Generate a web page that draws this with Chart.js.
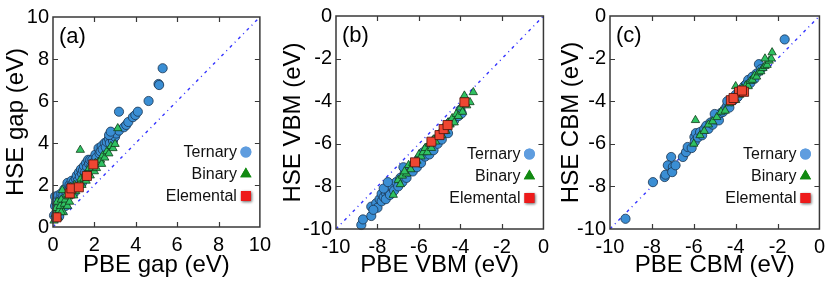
<!DOCTYPE html>
<html>
<head>
<meta charset="utf-8">
<script src="https://cdn.jsdelivr.net/npm/chart.js@4.4.1/dist/chart.umd.min.js"></script>
<style>
html,body{margin:0;padding:0;background:#fff;}
#wrap{position:relative;width:831px;height:286px;overflow:hidden;}
canvas{position:absolute;top:0;}
</style>
</head>
<body>
<div id="wrap">
<canvas id="cA" width="277" height="286" style="left:0px"></canvas>
<canvas id="cB" width="278" height="286" style="left:277px"></canvas>
<canvas id="cC" width="276" height="286" style="left:555px"></canvas>
</div>
<script>
// ---------------- DATA ----------------
const seriesNames = ['Ternary', 'Binary', 'Elemental'];
const panelLabels = ['(a)', '(b)', '(c)'];
const xTitles = ['PBE gap (eV)', 'PBE VBM (eV)', 'PBE CBM (eV)'];
const yTitles = ['HSE gap (eV)', 'HSE VBM (eV)', 'HSE CBM (eV)'];
const axisRanges = [[0, 10], [-10, 0], [-10, 0]];
const tickStep = 2;

// Panel (a): [PBE gap, HSE gap]
const ternaryGap = [[0.05,0.55],[0.1,1.0],[0.1,1.45],[0.15,1.2],[0.2,0.7],[0.25,1.5],[0.3,1.1],[0.35,1.35],[0.4,1.6],[0.45,1.25],[0.5,1.5],[0.55,1.8],[0.6,1.4],[0.65,1.65],[0.7,2.1],[0.75,1.75],[0.8,2.0],[0.85,1.9],[0.9,2.2],[0.95,2.05],[1.0,2.15],[1.05,1.95],[1.1,2.3],[1.15,2.45],[1.2,2.2],[1.25,2.6],[1.3,2.4],[1.35,2.75],[1.4,2.55],[1.45,2.7],[1.5,2.9],[1.55,2.6],[1.6,3.05],[1.65,2.85],[1.7,3.2],[1.75,3.0],[1.8,3.2],[1.85,2.9],[1.9,3.2],[2.0,3.1],[2.05,3.45],[2.1,3.3],[2.2,3.75],[2.25,3.5],[2.3,3.6],[2.35,3.85],[2.4,3.7],[2.5,4.0],[2.55,3.8],[2.6,4.05],[2.7,4.2],[2.75,4.0],[2.8,4.5],[2.85,4.25],[2.9,4.1],[3.0,4.3],[3.05,4.45],[3.19,4.59],[2.71,4.38],[2.79,4.54],[3.43,4.75],[3.54,4.86],[3.64,5.0],[3.86,5.23],[3.98,5.33],[4.10,5.49],[3.19,5.49],[4.62,6.0],[5.1,6.81],[5.13,6.76],[5.30,7.56],[0.3,0.5],[0.6,1.0],[1.0,1.6],[1.4,2.1],[1.2,1.9]];
const binaryGap = [[0.05,0.3],[0.1,0.6],[0.15,0.9],[0.2,1.2],[0.25,0.45],[0.3,0.8],[0.35,1.0],[0.4,1.3],[0.45,1.75],[0.5,0.7],[0.55,1.1],[0.6,1.3],[0.65,1.55],[0.7,1.0],[0.75,1.45],[0.8,1.2],[0.9,1.55],[1.0,1.5],[1.05,2.0],[1.1,1.7],[1.2,1.9],[1.3,2.1],[1.35,2.3],[1.4,2.0],[1.5,2.3],[1.55,2.5],[1.6,2.2],[1.7,2.6],[1.75,2.8],[1.8,2.45],[1.9,2.8],[2.0,2.65],[2.05,3.05],[2.1,2.8],[2.2,3.1],[2.3,3.2],[2.35,3.0],[2.4,3.4],[2.5,3.3],[2.6,3.6],[2.7,3.5],[2.8,3.85],[2.9,3.75],[3.0,3.95],[1.32,3.67],[3.13,4.70],[0.4,0.7],[0.85,1.9]];
const elementalGap = [[0.17,0.46],[0.81,1.6],[0.89,1.84],[1.25,1.89],[1.64,2.43],[1.95,2.98]];

// Panel (b): [PBE VBM, HSE VBM]
const ternaryVBM = [[-8.78,-9.81],[-8.70,-9.55],[-8.30,-9.39],[-8.30,-8.95],[-8.06,-8.79],[-8.0,-9.0],[-7.9,-8.6],[-7.8,-8.7],[-7.8,-8.35],[-7.7,-8.5],[-7.6,-8.3],[-7.6,-8.6],[-7.5,-8.2],[-7.4,-8.4],[-7.3,-8.0],[-7.2,-8.2],[-7.1,-7.8],[-7.0,-8.0],[-6.9,-7.6],[-6.8,-7.8],[-6.7,-7.4],[-6.6,-7.6],[-6.5,-7.3],[-6.4,-7.1],[-6.3,-7.3],[-6.2,-6.9],[-6.1,-7.1],[-6.0,-6.7],[-5.9,-6.9],[-5.8,-6.4],[-5.7,-6.6],[-5.6,-6.2],[-5.5,-6.5],[-5.4,-6.1],[-5.3,-6.3],[-5.2,-5.8],[-5.1,-6.0],[-5.0,-5.6],[-4.9,-5.8],[-4.8,-5.4],[-4.6,-5.5],[-4.5,-5.0],[-4.3,-4.9],[-4.1,-4.7],[-3.94,-4.57],[-4.0,-4.4],[-7.7,-8.1],[-8.2,-9.1],[-6.75,-7.1],[-7.5,-7.8]];
const binaryVBM = [[-7.24,-8.40],[-7.0,-7.7],[-6.9,-7.9],[-6.8,-7.5],[-6.6,-7.4],[-6.5,-7.0],[-6.4,-7.2],[-6.3,-6.9],[-6.1,-6.8],[-6.0,-6.5],[-5.9,-6.6],[-5.8,-6.4],[-5.7,-6.2],[-5.6,-6.4],[-5.5,-6.0],[-5.4,-6.2],[-5.3,-5.8],[-5.2,-5.9],[-5.1,-5.6],[-5.0,-5.5],[-4.9,-5.6],[-4.8,-5.2],[-4.7,-5.4],[-4.6,-5.0],[-4.5,-5.1],[-4.4,-4.8],[-4.3,-5.0],[-4.2,-4.6],[-4.1,-4.7],[-4.0,-4.3],[-3.9,-4.5],[-3.81,-3.74],[-3.54,-4.05],[-3.38,-3.58],[-3.7,-4.2],[-6.7,-7.3]];
const elementalVBM = [[-6.19,-6.87],[-5.40,-5.90],[-5.01,-5.59],[-4.81,-5.31],[-4.62,-5.12],[-3.81,-4.05]];

// Panel (c): [PBE CBM, HSE CBM]
const ternaryCBM = [[-9.26,-9.52],[-7.95,-7.80],[-7.39,-7.56],[-7.35,-7.45],[-7.08,-6.62],[-7.24,-7.01],[-7.0,-7.09],[-7.03,-7.33],[-6.87,-7.01],[-6.52,-6.62],[-6.37,-6.39],[-6.29,-6.15],[-6.1,-6.2],[-5.97,-5.68],[-5.95,-5.9],[-5.9,-5.5],[-5.8,-5.7],[-5.7,-5.45],[-5.6,-5.6],[-5.5,-5.3],[-5.4,-5.15],[-5.3,-5.3],[-5.2,-5.0],[-5.1,-5.1],[-5.0,-4.85],[-4.9,-4.7],[-4.8,-4.9],[-4.7,-4.55],[-4.6,-4.5],[-4.5,-4.35],[-4.4,-4.2],[-4.3,-4.3],[-4.2,-4.0],[-4.1,-3.95],[-4.0,-3.7],[-3.9,-3.8],[-3.8,-3.5],[-3.7,-3.45],[-3.6,-3.3],[-3.5,-3.2],[-3.4,-3.0],[-3.3,-3.15],[-3.2,-2.85],[-3.1,-2.95],[-3.0,-2.7],[-2.89,-2.26],[-2.8,-2.5],[-1.66,-1.10],[-4.4,-4.0],[-5.0,-4.6]];
const binaryCBM = [[-5.92,-4.89],[-6.0,-6.0],[-5.7,-5.6],[-5.5,-5.4],[-5.3,-5.1],[-5.1,-4.95],[-4.9,-4.75],[-4.7,-4.5],[-4.5,-4.45],[-4.3,-4.1],[-4.1,-3.85],[-4.0,-3.95],[-3.9,-3.6],[-3.8,-3.7],[-3.7,-3.4],[-3.6,-3.55],[-3.5,-3.25],[-3.4,-3.3],[-3.3,-3.05],[-3.2,-3.0],[-3.1,-2.8],[-3.0,-2.85],[-2.9,-2.65],[-2.8,-2.6],[-2.7,-2.45],[-2.6,-2.35],[-2.5,-2.3],[-2.4,-2.1],[-2.3,-2.0],[-2.26,-1.71],[-4.0,-3.3],[-2.6,-2.0]];
const elementalCBM = [[-4.23,-3.95],[-3.84,-3.56],[-3.60,-3.56],[-4.1,-3.85],[-3.7,-3.5]];

// ---------------- STYLE ----------------
const FONT = "'Liberation Sans', Arial, Helvetica, sans-serif";
const markerStyles = [
  {pointStyle:'circle', radius:4.6, bg:'#3a8ed4', border:'#1b3550'},
  {pointStyle:'triangle', radius:4.8, bg:'#2fc262', border:'#123d1c'},
  {pointStyle:'rect', radius:6.4, bg:'#ef4632', border:'#4a120a'}
];
const legendStyles = [
  {pointStyle:'circle', radius:5.5, bg:'#5f9ddf'},
  {pointStyle:'triangle', radius:6.5, bg:'#128a12'},
  {pointStyle:'rect', radius:7, bg:'#ee1a1a'}
];
const panelLayout = [
  {canvas:'cA', left:53, right:14, top:17, bottom:59},
  {canvas:'cB', left:59, right:9, top:16, bottom:57},
  {canvas:'cC', left:55, right:10, top:16, bottom:57}
];
const legendOffsets = [-75, -53, -31];

const toXY = arr => arr.map(p => ({x:p[0], y:p[1]}));

const framePlugin = {
  id:'frame',
  afterDraw(chart, args, opts) {
    const {ctx, chartArea:a, scales} = chart;
    ctx.save();
    // frame
    ctx.strokeStyle = '#383838';
    ctx.lineWidth = 1.5;
    ctx.strokeRect(a.left, a.top, a.right - a.left, a.bottom - a.top);
    // inward ticks
    ctx.lineWidth = 1.2;
    ctx.beginPath();
    scales.x.ticks.forEach(t => {
      const px = Math.round(scales.x.getPixelForValue(t.value)) + 0.5;
      if (px <= a.left + 1 || px >= a.right - 1) return;
      ctx.moveTo(px, a.bottom); ctx.lineTo(px, a.bottom - 5);
      ctx.moveTo(px, a.top); ctx.lineTo(px, a.top + 5);
    });
    scales.y.ticks.forEach(t => {
      const py = Math.round(scales.y.getPixelForValue(t.value)) + 0.5;
      if (py <= a.top + 1 || py >= a.bottom - 1) return;
      ctx.moveTo(a.left, py); ctx.lineTo(a.left + 5, py);
      ctx.moveTo(a.right, py); ctx.lineTo(a.right - 5, py);
    });
    ctx.stroke();
    // panel label
    ctx.fillStyle = '#000';
    ctx.font = '22px ' + FONT;
    ctx.textAlign = 'left';
    ctx.textBaseline = 'middle';
    ctx.fillText(opts.label, a.left + 6, a.top + 20);
    // legend
    ctx.font = '16px ' + FONT;
    ctx.textAlign = 'right';
    seriesNames.forEach((name, i) => {
      const y = a.bottom + legendOffsets[i];
      const mx = a.right - 14;
      ctx.fillStyle = '#111';
      ctx.fillText(name, mx - 9, y + 1);
      const st = legendStyles[i];
      if (i === 2) { ctx.shadowColor = 'rgba(0,0,0,0.35)'; ctx.shadowBlur = 3; ctx.shadowOffsetX = 1; ctx.shadowOffsetY = 1; }
      ctx.fillStyle = st.bg;
      Chart.helpers.drawPoint(ctx, {pointStyle:st.pointStyle, radius:st.radius, borderWidth:0}, mx, y);
      ctx.fill();
      ctx.shadowColor = 'transparent'; ctx.shadowBlur = 0; ctx.shadowOffsetX = 0; ctx.shadowOffsetY = 0;
    });
    ctx.restore();
  }
};

const panelData = [
  [ternaryGap, binaryGap, elementalGap],
  [ternaryVBM, binaryVBM, elementalVBM],
  [ternaryCBM, binaryCBM, elementalCBM]
];

panelData.forEach((series, p) => {
  const L = panelLayout[p];
  const [lo, hi] = axisRanges[p];
  const datasets = [];
  // first dataset is drawn on top: Elemental, Binary, Ternary, then diagonal
  [2, 1, 0].forEach(i => {
    const st = markerStyles[i];
    datasets.push({
      type:'scatter',
      label: seriesNames[i],
      data: toXY(series[i]),
      pointStyle: st.pointStyle,
      pointRadius: st.radius,
      pointBackgroundColor: st.bg,
      pointBorderColor: st.border,
      pointBorderWidth: 0.8,
      clip: false
    });
  });
  datasets.push({
    type:'line',
    label:'y = x',
    data:[{x:lo, y:lo}, {x:hi, y:hi}],
    borderColor:'#3434ff',
    borderWidth:1.4,
    borderDash:[3,4,1,4],
    pointRadius:0,
    fill:false
  });
  const tickFont = {family:FONT, size:20};
  const titleFont = {family:FONT, size:24};
  new Chart(document.getElementById(L.canvas), {
    type:'scatter',
    data:{datasets},
    options:{
      responsive:false,
      animation:false,
      devicePixelRatio:1,
      events:[],
      layout:{padding:{top:L.top, right:L.right, left:0, bottom:0}},
      plugins:{legend:{display:false}, tooltip:{enabled:false}, frame:{label:panelLabels[p]}},
      scales:{
        x:{
          type:'linear', min:lo, max:hi,
          grid:{display:false, drawTicks:false},
          border:{display:false},
          ticks:{stepSize:tickStep, font:tickFont, color:'#000', padding:6, autoSkip:false, maxRotation:0},
          title:{display:true, text:xTitles[p], font:titleFont, color:'#000', padding:{top:0, bottom:6}},
          afterFit(s){ s.height = L.bottom; }
        },
        y:{
          type:'linear', min:lo, max:hi,
          grid:{display:false, drawTicks:false},
          border:{display:false},
          ticks:{stepSize:tickStep, font:tickFont, color:'#000', padding:4, autoSkip:false},
          title:{display:true, text:yTitles[p], font:titleFont, color:'#000', padding:{top:2, bottom:0}},
          afterFit(s){ s.width = L.left; }
        }
      }
    },
    plugins:[framePlugin]
  });
});
</script>
</body>
</html>
